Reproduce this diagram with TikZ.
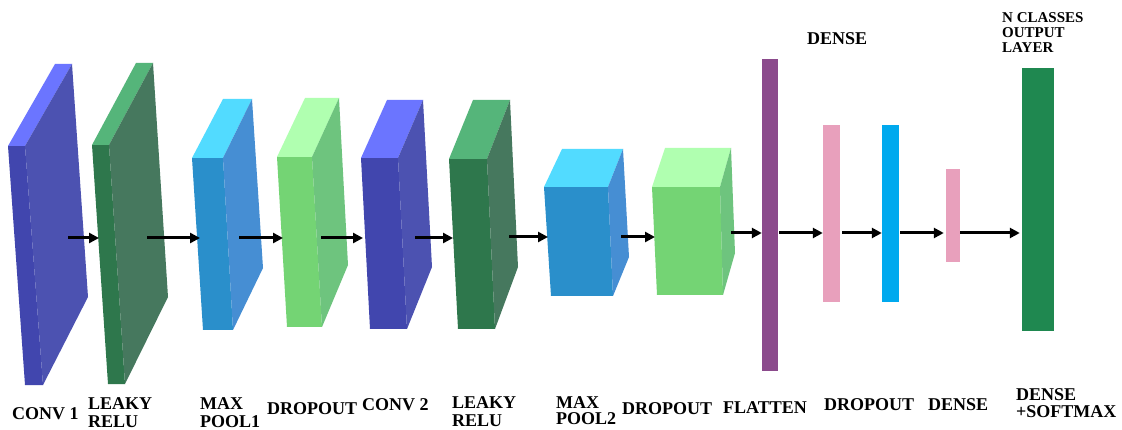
\documentclass[tikz,border=0pt]{standalone}
\usepackage{fontspec}
\setmainfont{Liberation Serif}
\usetikzlibrary{arrows.meta}

% face colours of the 3-D layer blocks
\definecolor{convfront}{HTML}{4146AE}
\definecolor{convtop}{HTML}{6B75FF}
\definecolor{convside}{HTML}{4C52B1}
\definecolor{relufront}{HTML}{2E774C}
\definecolor{relutop}{HTML}{55B57A}
\definecolor{reluside}{HTML}{46785E}
\definecolor{poolfront}{HTML}{2A8FCB}
\definecolor{pooltop}{HTML}{52DBFF}
\definecolor{poolside}{HTML}{468ED3}
\definecolor{dropfront}{HTML}{74D474}
\definecolor{droptop}{HTML}{B0FFB0}
\definecolor{dropside}{HTML}{6EC47E}
% flat dense-stage bars
\definecolor{flatbar}{HTML}{8B4A8C}
\definecolor{pinkbar}{HTML}{E8A0BC}
\definecolor{cyanbar}{HTML}{00A9EE}
\definecolor{outbar}{HTML}{1F8850}

% #1 name, #2..#8 front TL, front TR, front BR, front BL, top back L, top back R, side BR, #9 colour prefix
\newcommand\layerblock[9]{%
  \coordinate (#1-ftl) at (#2);
  \coordinate (#1-ftr) at (#3);
  \coordinate (#1-fbr) at (#4);
  \coordinate (#1-fbl) at (#5);
  \coordinate (#1-tbl) at (#6);
  \coordinate (#1-tbr) at (#7);
  \coordinate (#1-sbr) at (#8);
  \fill[#9front] (#1-ftl) -- (#1-ftr) -- (#1-fbr) -- (#1-fbl) -- cycle;
  \fill[#9top] (#1-ftl) -- (#1-tbl) -- (#1-tbr) -- (#1-ftr) -- cycle;
  \fill[#9side] (#1-ftr) -- (#1-tbr) -- (#1-sbr) -- (#1-fbr) -- cycle;
}

\tikzset{
  flow/.style={line width=3pt, -{Triangle[length=10pt,width=10pt]}},
  bar/.style={rectangle, inner sep=0pt, draw=none},
  lbl/.style={anchor=north west, inner sep=0pt, align=left,
    font=\bfseries\fontsize{18}{18}\selectfont},
  smalllbl/.style={anchor=north west, inner sep=0pt, align=left,
    font=\bfseries\fontsize{15}{15}\selectfont},
}

\begin{document}
\begin{tikzpicture}[x=1pt, y=-1pt]
\useasboundingbox[fill=white] (0,0) rectangle (1122,430);

% convolutional part
\layerblock{conv1}{8,146}{25,146}{43,385}{25,385}{55,64}{72,64}{88,297}{conv}
\layerblock{relu1}{92,145}{109,145}{125,384}{108,384}{136,63}{153,63}{168,297}{relu}
\layerblock{pool1}{192,158}{223,158}{233,330}{203,330}{223,99}{252,99}{263,268}{pool}
\layerblock{drop1}{277,157}{312,157}{322,327}{287,327}{305,98}{339,98}{348,265}{drop}
\layerblock{conv2}{361,158}{398,158}{407,329}{370,329}{387,100}{423,100}{432,267}{conv}
\layerblock{relu2}{449,159}{487,159}{495,329}{458,329}{473,100}{510,100}{518,267}{relu}
\layerblock{pool2}{544,187}{608,187}{613,296}{551,296}{562,149}{623,149}{629,257}{pool}
\layerblock{drop2}{652,187}{720,187}{723,295}{657,295}{665,148}{731,148}{735,253}{drop}

% dense part
\node[bar, fill=flatbar, minimum width=16pt, minimum height=312pt] (flat) at (770,215) {};
\node[bar, fill=pinkbar, minimum width=17pt, minimum height=177pt] (drop3) at (831.5,213.5) {};
\node[bar, fill=cyanbar, minimum width=17pt, minimum height=177pt] (dense1) at (890.5,213.5) {};
\node[bar, fill=pinkbar, minimum width=14pt, minimum height=93pt] (dense2) at (953,215.5) {};
\node[bar, fill=outbar, minimum width=32pt, minimum height=263pt] (outlayer) at (1038,199.5) {};

% arrow end points
\coordinate (conv1-out) at (68,238);
\coordinate (relu1-in) at (99,238);
\coordinate (relu1-out) at (147,238);
\coordinate (pool1-in) at (200,238);
\coordinate (pool1-out) at (239,238);
\coordinate (drop1-in) at (283,238);
\coordinate (drop1-out) at (321,238);
\coordinate (conv2-in) at (363,238);
\coordinate (conv2-out) at (415,238);
\coordinate (relu2-in) at (453,238);
\coordinate (relu2-out) at (509,237);
\coordinate (pool2-in) at (548,237);
\coordinate (pool2-out) at (621,237);
\coordinate (drop2-in) at (655,237);
\coordinate (drop2-out) at (731,233);
\coordinate (lane) at (0,233);

\draw[flow] (conv1-out) -- (relu1-in);
\draw[flow] (relu1-out) -- (pool1-in);
\draw[flow] (pool1-out) -- (drop1-in);
\draw[flow] (drop1-out) -- (conv2-in);
\draw[flow] (conv2-out) -- (relu2-in);
\draw[flow] (relu2-out) -- (pool2-in);
\draw[flow] (pool2-out) -- (drop2-in);
\draw[flow] (drop2-out) -- (flat.west |- lane);
\draw[flow] ([xshift=1pt]flat.east |- lane) -- (drop3.west |- lane);
\draw[flow] ([xshift=2pt]drop3.east |- lane) -- (dense1.west |- lane);
\draw[flow] ([xshift=1pt]dense1.east |- lane) -- ([xshift=-2pt]dense2.west |- lane);
\draw[flow] (dense2.east |- lane) -- ([xshift=-2pt]outlayer.west |- lane);

% layer names
\node[lbl] (t-conv1) at (12,407) {CONV 1};
\node[lbl] (t-relu1) at (88,397) {LEAKY\\RELU};
\node[lbl] (t-pool1) at (200,397) {MAX\\POOL1};
\node[lbl] (t-drop1) at (267,402) {DROPOUT};
\node[lbl] (t-conv2) at (362,398) {CONV 2};
\node[lbl] (t-relu2) at (452,396) {LEAKY\\RELU};
\node[lbl, font=\bfseries\fontsize{18}{16.5}\selectfont] (t-pool2) at (556,396) {MAX\\POOL2};
\node[lbl] (t-drop2) at (622,402) {DROPOUT};
\node[lbl] (t-flat) at (723,401) {FLATTEN};
\node[lbl] (t-drop3) at (824,398) {DROPOUT};
\node[lbl] (t-dense2) at (928,398) {DENSE};
\node[lbl, font=\bfseries\fontsize{18}{17}\selectfont] (t-out) at (1016,388) {DENSE\\+SOFTMAX};
\node[lbl] (t-dense1) at (807,32) {DENSE};
\node[smalllbl] (t-classes) at (1002,12) {N CLASSES\\OUTPUT\\LAYER};
\end{tikzpicture}
\end{document}
